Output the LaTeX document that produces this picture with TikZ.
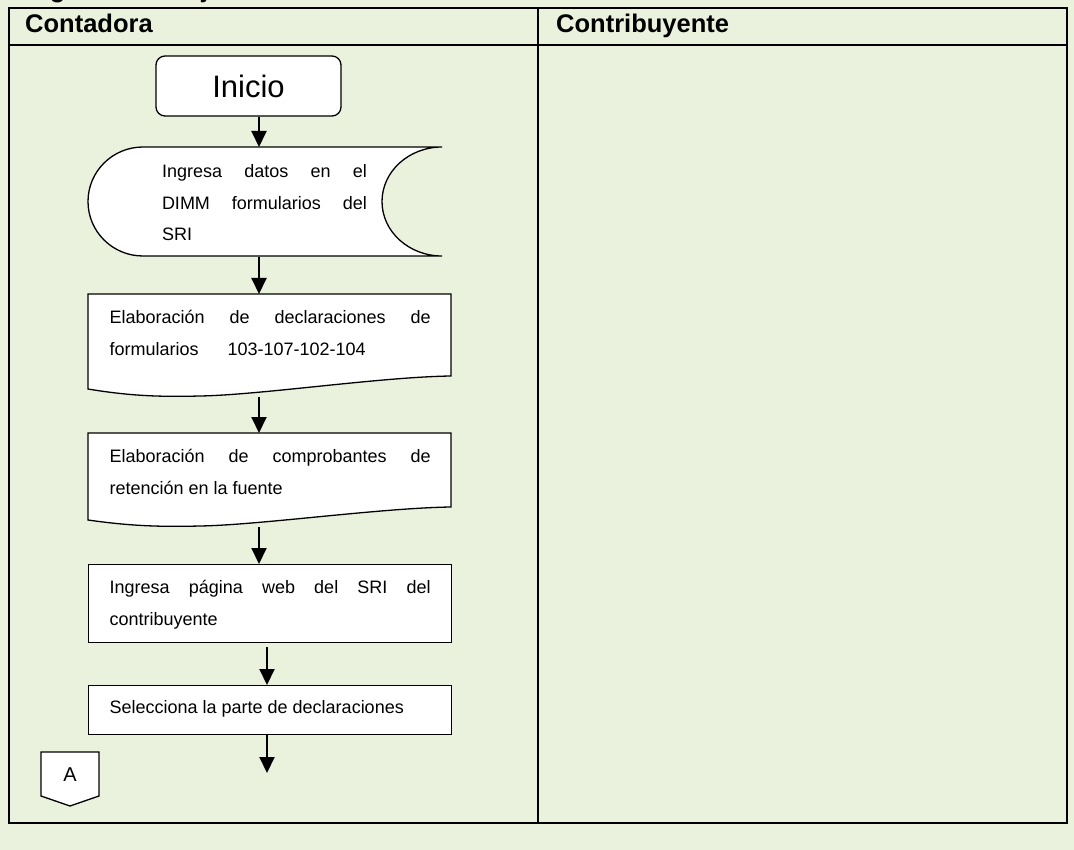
\documentclass[tikz,border=0pt]{standalone}
\usepackage{fontspec}
\setmainfont{Liberation Sans}
\usetikzlibrary{arrows.meta}
\definecolor{lanebg}{HTML}{EAF1DD}

\begin{document}
\begin{tikzpicture}[
  x=1pt, y=-1pt,
  frame/.style={draw=black, line width=1.6pt},
  lane/.style={draw=black, line width=1.3pt},
  head/.style={anchor=base west, inner sep=0pt, font=\fontsize{25.5}{30}\selectfont\bfseries},
  term/.style={rectangle, rounded corners=9pt, draw=black, line width=1.3pt, fill=white,
               minimum width=185pt, minimum height=60pt, font=\fontsize{31}{36}\selectfont},
  proc/.style={rectangle, draw=black, line width=1.3pt, fill=white, anchor=north west,
               minimum width=363pt, inner xsep=21pt, inner ysep=0pt, text width=321pt,
               align=justify, font=\fontsize{18}{31.5}\selectfont},
  doc/.style={proc, draw=none, fill=none},
  store/.style={doc, anchor=north, inner xsep=0pt, text width=205pt, minimum width=0pt},
  docline/.style={draw=black, line width=1.3pt, fill=white},
  arr/.style={-{Triangle[length=16pt,width=15pt]}, draw=black, line width=2pt}
]
\fill[lanebg] (0,0) rectangle (1074,850);
\useasboundingbox (0,0) rectangle (1074,850);

% title, only its lower edge is left on the page
\begin{scope}
  \clip (0,0) rectangle (1074,8);
  \node[head] (ttl) at (10,-2.5) {Diagrama de flujo};
\end{scope}

% swimlanes
\draw[frame] (9,8) rectangle (1067,823);
\draw[lane] (9,45) -- (1067,45);
\draw[lane] (538,8) -- (538,823);
\node[head] (hc) at (25,33) {Contadora};
\node[head] (hb) at (556,33) {Contribuyente};

% start
\node[term] (ini) at (248.5,86) {Inicio};

% stored data
\draw[docline] (143,147) -- (442,147)
  .. controls (408.9,147) and (382,171.4) .. (382,201.5)
  .. controls (382,231.6) and (408.9,256) .. (442,256) -- (143,256)
  .. controls (112.6,256) and (88,231.6) .. (88,201.5)
  .. controls (88,171.4) and (112.6,147) .. (143,147) -- cycle;
\node[store, text height=30pt, text depth=79pt] (dat) at (264.5,147)
  {Ingresa datos en el\linebreak DIMM formularios del\linebreak SRI};

% documents
\draw[docline] (88,294) -- (451,294) -- (451,376)
  .. controls (380,377) and (260,395) .. (200,396)
  .. controls (160,397) and (130,396) .. (88,389) -- cycle;
\node[doc, text height=29pt, text depth=73pt] (dec) at (88,294)
  {Elaboración de declaraciones de\linebreak formularios\hspace{29pt}103-107-102-104};

\draw[docline] (88,433) -- (451,433) -- (451,507)
  .. controls (380,508) and (260,525) .. (200,526)
  .. controls (160,527) and (130,526) .. (88,520) -- cycle;
\node[doc, text height=29pt, text depth=64pt] (ret) at (88,433)
  {Elaboración de comprobantes de\linebreak retención en la fuente};

% processes
\node[proc, text height=29pt, text depth=49pt] (web) at (88,564)
  {Ingresa página web del SRI del\linebreak contribuyente};
\node[proc, text height=28pt, text depth=21pt] (sel) at (88,685)
  {Selecciona la parte de declaraciones};

% off-page connector
\draw[docline] (41,752) -- (99,752) -- (99,796) -- (70,806) -- (41,796) -- cycle;
\node[font=\fontsize{20}{22}\selectfont, inner sep=0pt] (conA) at (70,775) {A};

% flow
\coordinate (ax) at (259,0);
\coordinate (bx) at (267,0);
\coordinate (fin) at (267,773);
\draw[arr] (ini.south -| ax) -- (dat.north -| ax);
\draw[arr] (dat.south -| ax) -- (dec.north -| ax);
\draw[arr] (dec.south -| ax) -- (ret.north -| ax);
\draw[arr] (ret.south -| ax) -- (web.north -| ax);
\draw[arr, shorten <=4pt] (web.south -| bx) -- (sel.north -| bx);
\draw[arr] (sel.south -| bx) -- (fin);
\end{tikzpicture}
\end{document}
